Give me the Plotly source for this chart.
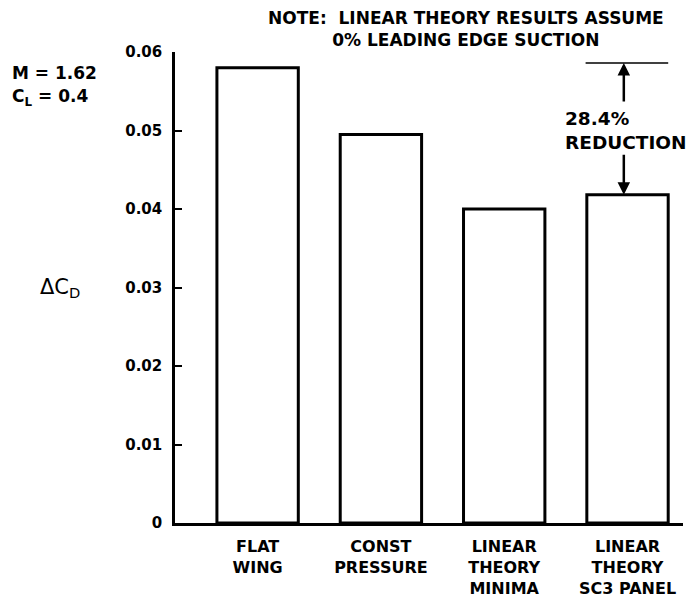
import plotly.graph_objects as go

# ==========================================
# DATA
# ==========================================
categories = ["FLAT<br>WING", "CONST<br>PRESSURE", "LINEAR<br>THEORY<br>MINIMA", "LINEAR<br>THEORY<br>SC3 PANEL"]
delta_cd = [0.0580, 0.0495, 0.0400, 0.0418]
y_ticks = [0, 0.01, 0.02, 0.03, 0.04, 0.05, 0.06]
y_tick_labels = ["0", "0.01", "0.02", "0.03", "0.04", "0.05", "0.06"]
reference_level = 0.0586

FONT = "DejaVu Sans"

fig = go.Figure()
fig.add_trace(go.Bar(
    x=list(range(len(categories))),
    y=delta_cd,
    width=0.66,
    marker=dict(color="white", line=dict(color="black", width=3)),
    hoverinfo="skip",
))

# margins compensate for the 8px body margin of the html page
fig.update_layout(
    width=694,
    height=597,
    margin=dict(l=167, r=19, t=44, b=82),
    plot_bgcolor="white",
    paper_bgcolor="white",
    showlegend=False,
    font=dict(family=FONT, size=15, color="black", weight="bold"),
)

fig.update_xaxes(
    range=[-0.67, 3.45],
    tickvals=list(range(len(categories))),
    ticktext=categories,
    showline=True, linecolor="black", linewidth=2.5,
    showgrid=False, zeroline=False, ticks="", automargin=False,
    ticklabelstandoff=7,
    tickfont=dict(family=FONT, size=16, weight="bold"),
)
fig.update_yaxes(
    range=[0, 0.06],
    tickvals=y_ticks,
    ticktext=y_tick_labels,
    showline=True, linecolor="black", linewidth=2.5,
    showgrid=False, zeroline=False, automargin=False,
    ticks="inside", ticklen=7, tickwidth=2, tickcolor="black",
    ticklabelstandoff=7,
    tickfont=dict(family=FONT, size=15, weight="bold"),
)

# reference line at flat-wing level over the SC3 bar
fig.add_shape(type="line", xref="x", yref="y",
              x0=2.66, x1=3.33, y0=reference_level, y1=reference_level,
              line=dict(color="black", width=1.5))

# up arrow to the reference line, down arrow to the SC3 bar
fig.add_annotation(x=2.97, y=reference_level, ax=2.97, ay=0.0535,
                   xref="x", yref="y", axref="x", ayref="y",
                   showarrow=True, arrowhead=2, arrowsize=1, arrowwidth=2.5,
                   arrowcolor="black", text="")
fig.add_annotation(x=2.97, y=delta_cd[3], ax=2.97, ay=0.0471,
                   xref="x", yref="y", axref="x", ayref="y",
                   showarrow=True, arrowhead=2, arrowsize=1, arrowwidth=2.5,
                   arrowcolor="black", text="")
fig.add_annotation(x=2.48, y=0.0500, xref="x", yref="y",
                   text="28.4%<br>REDUCTION", showarrow=False,
                   xanchor="left", yanchor="middle", align="left",
                   font=dict(family=FONT, size=18.5, weight="bold"))

# note text at top
fig.add_annotation(x=0.573, y=1.049, xref="paper", yref="paper",
                   text="NOTE:&nbsp; LINEAR THEORY RESULTS ASSUME<br>0% LEADING EDGE SUCTION",
                   showarrow=False, xanchor="center", yanchor="middle", align="center",
                   font=dict(family=FONT, size=17, weight="bold"))

# flight condition
fig.add_annotation(x=-0.325, y=0.955, xref="paper", yref="paper",
                   text="M = 1.62", showarrow=False, xanchor="left", yanchor="middle",
                   font=dict(family=FONT, size=17, weight="bold"))
fig.add_annotation(x=-0.325, y=0.903, xref="paper", yref="paper",
                   text="C<sub>L</sub> = 0.4", showarrow=False, xanchor="left", yanchor="middle",
                   font=dict(family=FONT, size=17, weight="bold"))

# y axis title
fig.add_annotation(x=-0.27, y=0.50, xref="paper", yref="paper",
                   text="ΔC<sub>D</sub>", showarrow=False, xanchor="left", yanchor="middle",
                   font=dict(family=FONT, size=21, weight="normal"))

fig.write_html("out.html")
